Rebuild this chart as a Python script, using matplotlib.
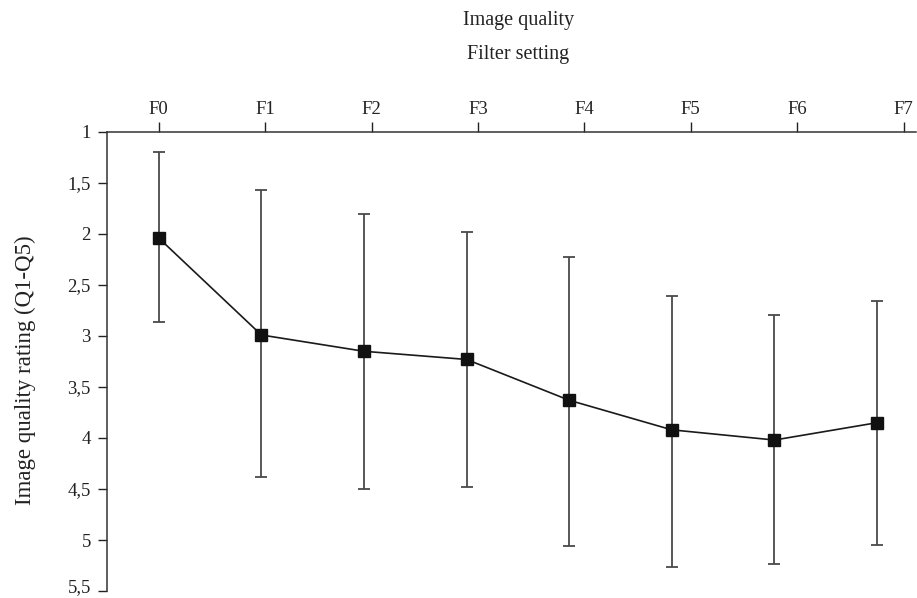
import numpy as np
import matplotlib
matplotlib.use("Agg")
import matplotlib.pyplot as plt
import matplotlib.transforms as mtransforms

categories = ["F0", "F1", "F2", "F3", "F4", "F5", "F6", "F7"]
mean_rating = [2.04, 2.99, 3.15, 3.23, 3.63, 3.92, 4.02, 3.85]
err_upper = [1.20, 1.57, 1.80, 1.98, 2.23, 2.61, 2.79, 2.66]   # top whisker
err_lower = [2.86, 4.38, 4.50, 4.48, 5.06, 5.26, 5.24, 5.05]   # bottom whisker
y_ticks = [1, 1.5, 2, 2.5, 3, 3.5, 4, 4.5, 5, 5.5]
y_ticklabels = ["1", "1,5", "2", "2,5", "3", "3,5", "4", "4,5", "5", "5,5"]

plt.rcParams['font.family'] = ['Liberation Serif', 'DejaVu Serif']

fig = plt.figure(figsize=(9.17, 5.98), dpi=100)
ax = fig.add_axes([0.1172, 0.0117, 0.8817, 0.7676])

x = np.arange(len(categories))
mean = np.array(mean_rating)
yerr = np.vstack([mean - np.array(err_upper), np.array(err_lower) - mean])

ax.errorbar(x, mean, yerr=yerr, fmt='none', ecolor='#4a4a4a', elinewidth=1.3,
            capsize=4, capthick=1.3, zorder=2)
ax.plot(x, mean, color='#1a1a1a', linewidth=1.2, marker='s', markersize=9,
        markerfacecolor='#111111', markeredgecolor='#111111', zorder=3)

ax.set_ylim(5.5, 1)
ax.set_xlim(-0.5, 7.38)
ax.set_yticks(y_ticks)
ax.set_yticklabels(y_ticklabels)

tick_scale = 106.4 / 102.6
ax.set_xticks(x * tick_scale)
ax.set_xticklabels(categories)

ax.xaxis.tick_top()
ax.spines['right'].set_visible(False)
ax.spines['bottom'].set_visible(False)
for s in ['top', 'left']:
    ax.spines[s].set_linewidth(1.1)
    ax.spines[s].set_color('#333333')

ax.tick_params(axis='x', direction='out', length=7, width=1.0, pad=3,
               labelsize=13.5, colors='#222222')
ax.tick_params(axis='y', direction='out', length=6.5, width=1.0, pad=5.5,
               labelsize=13.5, colors='#222222')

# keep the lowest tick label inside the canvas
last = ax.get_yticklabels()[-1]
last.set_transform(last.get_transform() + mtransforms.ScaledTranslation(0, 4/72, fig.dpi_scale_trans))

ax.set_ylabel("Image quality rating (Q1-Q5)", fontsize=16.5, color='#222222')
ax.yaxis.set_label_coords(-0.089, 0.48)

fig.text(0.565, 0.982, "Image quality", ha='center', va='top', fontsize=14.5, color='#222222')
fig.text(0.565, 0.925, "Filter setting", ha='center', va='top', fontsize=14.5, color='#222222')

fig.savefig("out.png", dpi=100)
